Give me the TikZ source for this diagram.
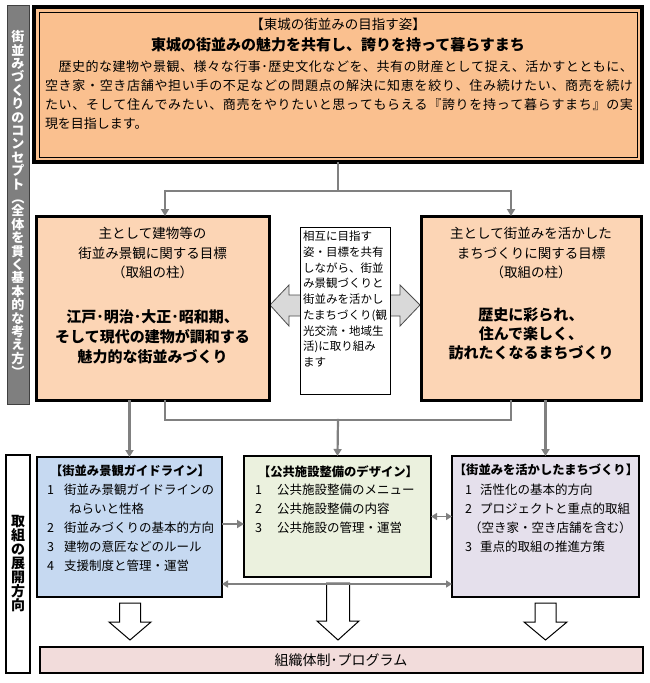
\documentclass[tikz,border=0pt]{standalone}
\usepackage{fontspec}
\setmainfont{Noto Sans CJK JP}
\usetikzlibrary{arrows.meta}
\definecolor{topfill}{RGB}{250,192,143}
\definecolor{pillarfill}{RGB}{252,213,181}
\definecolor{bluefill}{RGB}{198,217,241}
\definecolor{greenfill}{RGB}{235,241,222}
\definecolor{purplefill}{RGB}{229,224,236}
\definecolor{pinkfill}{RGB}{242,220,219}
\definecolor{conngray}{RGB}{128,128,128}
\definecolor{barfill}{RGB}{127,127,127}
\newcommand\myfs[2]{\fontsize{#1}{#2}\selectfont}
\def\spreadline#1#2{\hbox to #1{\spreadfirst#2\relax}}
\def\spreadfirst#1{#1\spreadrest}
\def\spreadrest#1{\ifx#1\relax\else\hfil#1\expandafter\spreadrest\fi}
\newcommand\vparen[1]{\rotatebox[origin=c]{-90}{#1}}
\begin{document}
\begin{tikzpicture}[x=1pt,y=-1pt,
  box/.style={draw, inner sep=0pt, outer sep=0pt},
  conn/.style={draw=conngray, line width=2.2pt},
  arr/.style={conn, -{Triangle[length=7pt,width=8pt]}},
  darr/.style={draw=conngray, line width=1.8pt, {Triangle[length=6pt,width=7pt]}-{Triangle[length=6pt,width=7pt]}},
  hollow/.style={draw=black, line width=1pt, fill=white, line join=miter},
  txt/.style={inner sep=0pt, outer sep=0pt},
  itemtxt/.style={txt, align=left, font=\myfs{12.5}{19}},
  headtxt/.style={txt, font=\myfs{12.3}{14}\bfseries},
]
\useasboundingbox (0,0) rectangle (650,683);
\fill[white] (0,0) rectangle (650,683);

% ---- side labels
\node[box, fill=barfill, draw=gray!50!black, line width=0.8pt, minimum width=22pt, minimum height=399pt] (conceptbar) at (18,204.5) {};
\node[txt, text=white, align=center, font=\myfs{13}{13.4}\bfseries] (concepttxt) at (conceptbar.center)
 {街\\並\\み\\づ\\く\\り\\の\\コ\\ン\\セ\\プ\\ト\\\vparen{（}\\全\\体\\を\\貫\\く\\基\\本\\的\\な\\考\\え\\方\\\vparen{）}};
\node[box, fill=white, line width=1.5pt, minimum width=24pt, minimum height=218pt] (devbar) at (18,564) {};
\node[txt, align=center, font=\myfs{14}{14}\bfseries] (devtxt) at (devbar.center) {取\\組\\の\\展\\開\\方\\向};

% ---- top box
\node[box, fill=topfill, line width=4pt, minimum width=608pt, minimum height=155pt] (topouter) at (338,84.5) {};
\node[box, line width=0.8pt, minimum width=598pt, minimum height=145pt] (topinner) at (338,84.5) {};
\node[txt, font=\myfs{13.5}{14}] (toptitle) at (338,24) {【東城の街並みの目指す姿】};
\node[txt, font=\myfs{15}{16}\bfseries] (topmain) at (338,45) {東城の街並みの魅力を共有し、誇りを持って暮らすまち};
\node[txt, anchor=west, font=\myfs{13}{14}] (para1) at (45,67) {\spreadline{588pt}{　歴史的な建物や景観、様々な行事･歴史文化などを、共有の財産として捉え、活かすとともに、}};
\node[txt, anchor=west, font=\myfs{13}{14}] (para2) at (45,86) {\spreadline{588pt}{空き家・空き店舗や担い手の不足などの問題点の解決に知恵を絞り、住み続けたい、商売を続け}};
\node[txt, anchor=west, font=\myfs{13}{14}] (para3) at (45,105) {\spreadline{588pt}{たい、そして住んでみたい、商売をやりたいと思ってもらえる『誇りを持って暮らすまち』の実}};
\node[txt, anchor=west, font=\myfs{13}{14}] (para4) at (45,124) {現を目指します。};

% ---- gray block double arrow (behind middle box)
\draw[fill=gray!30, draw=gray!60!black, line width=0.8pt] (270,305) -- (289,285) -- (289,295) -- (400,295) -- (400,285) -- (420,305) -- (400,326) -- (400,316) -- (289,316) -- (289,326) -- cycle;

% ---- pillar boxes
\node[box, fill=pillarfill, line width=3pt, minimum width=233pt, minimum height=184pt] (lpillar) at (152.5,308) {};
\node[box, fill=pillarfill, line width=3pt, minimum width=220pt, minimum height=184pt] (rpillar) at (531,308) {};
\node[txt, align=center, font=\myfs{13.5}{19.5}] (lpillarsub) at (152.5,253) {主として建物等の\\街並み景観に関する目標\\（取組の柱）};
\node[txt, align=center, font=\myfs{15}{20}\bfseries] (lpillarmain) at (152.5,337) {江戸･明治･大正･昭和期、\\そして現代の建物が調和する\\魅力的な街並みづくり};
\node[txt, align=center, font=\myfs{13.5}{19.5}] (rpillarsub) at (531,253) {主として街並みを活かした\\まちづくりに関する目標\\（取組の柱）};
\node[txt, align=center, font=\myfs{15}{19}\bfseries] (rpillarmain) at (531,334) {歴史に彩られ、\\住んで楽しく、\\訪れたくなるまちづくり};

% ---- middle text box
\node[box, fill=white, line width=0.8pt, minimum width=90pt, minimum height=167pt] (sharebox) at (345,310.5) {};
\node[txt, anchor=west, align=left, font=\myfs{11.5}{15.75}] (sharetxt) at (303,299) {相互に目指す\\姿・目標を共有\\しながら、街並\\み景観づくりと\\街並みを活かし\\たまちづくり(観\\光交流・地域生\\活)に取り組み\\ます};

% ---- top connectors
\coordinate (jt) at (338,191);
\coordinate (jl) at (165,191);
\coordinate (jr) at (511,191);
\draw[conn] (topouter.south) -- (jt);
\draw[conn] (jl) -- (jr);
\draw[arr] ([yshift=1.1pt]jl) -- (jl |- lpillar.north);
\draw[arr] ([yshift=1.1pt]jr) -- (jr |- rpillar.north);

% ---- bottom boxes
\node[box, fill=bluefill, line width=1.5pt, minimum width=185pt, minimum height=140pt] (gbox) at (129.5,527) {};
\node[box, fill=greenfill, line width=1.5pt, minimum width=187pt, minimum height=121pt] (pbox) at (337.5,516.5) {};
\node[box, fill=purplefill, line width=1.5pt, minimum width=187pt, minimum height=141pt] (mbox) at (545.5,526.5) {};

% ---- middle connectors
\coordinate (jb) at (338,420);
\coordinate (jbl) at (165,420);
\coordinate (jbr) at (511,420);
\draw[arr] (gbox.north |- lpillar.south) -- (gbox.north);
\draw[conn] (jbl |- lpillar.south) -- (jbl) -- (jbr) -- (jbr |- rpillar.south);
\draw[arr] ([yshift=1.1pt]jb) -- (pbox.north);
\draw[arr] (mbox.north |- rpillar.south) -- (mbox.north);

% ---- box texts
\node[headtxt] (ghead) at (130,471) {【街並み景観ガイドライン】};
\node[itemtxt, anchor=west] (gitems) at (47,528) {\makebox[17pt][l]{1}街並み景観ガイドラインの\\\hspace*{22pt}ねらいと性格\\\makebox[17pt][l]{2}街並みづくりの基本的方向\\\makebox[17pt][l]{3}建物の意匠などのルール\\\makebox[17pt][l]{4}支援制度と管理・運営};
\node[headtxt] (phead) at (338,472) {【公共施設整備のデザイン】};
\node[itemtxt, anchor=west] (pitems) at (255,509) {\makebox[22pt][l]{1}公共施設整備のメニュー\\\makebox[22pt][l]{2}公共施設整備の内容\\\makebox[22pt][l]{3}公共施設の管理・運営};
\node[headtxt] (mhead) at (546,470) {【街並みを活かしたまちづくり】};
\node[itemtxt, anchor=west] (mitems) at (465,518.5) {\makebox[15pt][l]{1}活性化の基本的方向\\\makebox[15pt][l]{2}プロジェクトと重点的取組\\\hspace*{4pt}（空き家・空き店舗を含む）\\\makebox[15pt][l]{3}重点的取組の推進方策};

% ---- links between bottom boxes
\draw[arr, line width=1.8pt] ([yshift=3pt]gbox.east) -- ([yshift=3pt]gbox.east -| pbox.west);
\draw[darr, line width=1.4pt] (pbox.east) -- (pbox.east -| mbox.west);

% ---- hollow arrows
\draw[hollow] (119.5,603) -- (140.5,603) -- (140.5,622) -- (151,622) -- (130,640) -- (109,622) -- (119.5,622) -- cycle;
\draw[hollow] (326.5,583) -- (349.5,583) -- (349.5,621) -- (359,621) -- (338,640) -- (317,621) -- (326.5,621) -- cycle;
\draw[hollow] (535,603) -- (556,603) -- (556,622) -- (567,622) -- (545.5,640) -- (524,622) -- (535,622) -- cycle;

\draw[darr] ([yshift=-57pt]gbox.east) -- ([yshift=-57pt]gbox.east -| mbox.west);

% ---- bottom bar
\node[box, fill=pinkfill, line width=1.2pt, minimum width=603pt, minimum height=26pt] (orgbox) at (341.5,660) {};
\node[txt, font=\myfs{14}{15}] (orgtxt) at (341,660) {組織体制･プログラム};
\end{tikzpicture}
\end{document}
